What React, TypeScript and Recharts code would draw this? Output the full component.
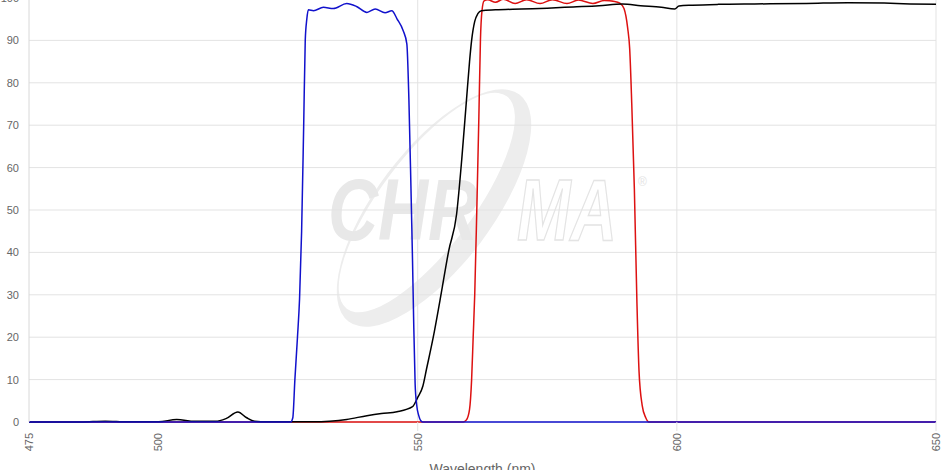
import React from 'react';
import { LineChart, Line, XAxis, YAxis, CartesianGrid } from 'recharts';

// Red bandpass (emitter)
const redWavelength = [475, 540, 555, 558.8, 559.4, 560.0, 560.4, 560.7, 561.0, 561.4, 561.8, 562.1, 562.4, 562.8, 563.5, 565, 566.5, 568.8, 571, 573.6, 576, 578.8, 581, 583.8, 586, 588, 589.0, 589.8, 590.5, 590.9, 591.3, 591.8, 592.3, 592.7, 593.3, 594, 594.6, 610, 650];
const redTransmission = [0, 0, 0, 0, 0.5, 3, 10, 20, 30, 50, 72, 90, 97, 99.3, 99.6, 99.0, 99.7, 98.7, 99.6, 98.7, 99.6, 98.7, 99.5, 98.7, 99.4, 99.2, 98.8, 97.5, 93, 88, 75, 55, 28, 12, 4, 1, 0, 0, 0];

// Blue bandpass (exciter)
const blueWavelength = [475, 520, 525.5, 525.9, 526.3, 526.8, 527.2, 527.6, 528.0, 528.3, 528.6, 528.9, 529.9, 531.8, 533.7, 536.3, 538.2, 540.2, 541.8, 543.7, 545.0, 546.0, 547.2, 547.9, 548.3, 548.7, 549.0, 549.2, 549.5, 549.8, 550.2, 550.6, 551, 560, 650];
const blueTransmission = [0, 0, 0, 1, 10, 20, 29, 45, 70, 90, 95, 97.2, 97.0, 97.8, 97.5, 98.7, 98.0, 96.6, 97.4, 96.5, 97.0, 95.1, 92.3, 89.2, 76, 55, 38, 25, 9, 4, 1.5, 0.3, 0, 0, 0];

// Black longpass (dichroic)
const blackWavelength = [475, 485, 489.7, 494, 500, 503.5, 507, 511, 513, 515.3, 517, 518.5, 521, 530, 533, 536.3, 540.2, 543, 546, 549, 550, 551, 551.7, 553, 554.3, 556, 557.5, 558.5, 559.4, 560.0, 560.4, 561.0, 561.6, 562.3, 565, 570, 575, 580, 585, 589.5, 593, 597, 599.6, 600.4, 603, 608, 615, 625, 633, 640, 645, 650];
const blackTransmission = [0, 0, 0.2, 0.05, 0.05, 0.6, 0.15, 0.15, 0.8, 2.35, 1.0, 0.2, 0.05, 0.05, 0.2, 0.6, 1.5, 2.0, 2.4, 3.6, 5.8, 8.5, 12.5, 20, 28.7, 40.5, 49, 62, 75.8, 85, 90, 94.5, 96.3, 97.0, 97.2, 97.4, 97.6, 97.9, 98.2, 98.6, 98.2, 97.8, 97.4, 98.1, 98.3, 98.5, 98.6, 98.7, 98.9, 98.8, 98.6, 98.5];

const xTicks = [475, 500, 550, 600, 650];
const yTicks = [0, 10, 20, 30, 40, 50, 60, 70, 80, 90, 100];
const gridWavelengths = [550, 600, 650];

const zip = (nm: number[], t: number[]) => nm.map((w, i) => ({ nm: w, t: t[i] }));
const redData = zip(redWavelength, redTransmission);
const blueData = zip(blueWavelength, blueTransmission);
const blackData = zip(blackWavelength, blackTransmission);

const FONT = "'Liberation Sans', Arial, sans-serif";

const XTick = (props: any) => {
  const { x, y, payload } = props;
  const v = payload.value;
  const ty = y + 11;
  return (
    <g>
      {gridWavelengths.includes(v) && (
        <line x1={x} x2={x} y1={y} y2={y + 9} stroke="#e2e2e2" strokeWidth={1} />
      )}
      <text
        x={x}
        y={ty}
        transform={`rotate(-90 ${x} ${ty})`}
        textAnchor="end"
        dy="0.35em"
        fill="#666"
        fontSize={11}
        fontFamily={FONT}
      >
        {v}
      </text>
    </g>
  );
};

const Watermark = () => (
  <svg width={951} height={470} style={{ position: 'absolute', left: 0, top: 0 }}>
    <g transform="translate(434 208) rotate(-53)">
      <path
        d="M -142 0 A 142 58 0 1 0 142 0 A 142 58 0 1 0 -142 0 Z M -133 -9 A 133 46 0 1 0 133 -9 A 133 46 0 1 0 -133 -9 Z"
        fill="#ededed"
        fillRule="evenodd"
      />
    </g>
    <text
      x={328}
      y={240}
      fontSize={88}
      fontStyle="italic"
      fontWeight="bold"
      fontFamily={FONT}
      textLength={150}
      lengthAdjust="spacingAndGlyphs"
      fill="#e8e8e8"
    >
      CHR
    </text>
    <text
      x={517}
      y={240}
      fontSize={88}
      fontStyle="italic"
      fontWeight="bold"
      fontFamily={FONT}
      textLength={100}
      lengthAdjust="spacingAndGlyphs"
      fill="#ffffff"
      stroke="#e4e4e4"
      strokeWidth={1.5}
    >
      MA
    </text>
    <text x={638} y={186} fontSize={12} fill="#e4e4e4" fontFamily={FONT}>®</text>
  </svg>
);

export default function App() {
  return (
    <div style={{ position: 'absolute', left: 0, top: 0, width: 951, height: 470, overflow: 'hidden', background: '#fff' }}>
      <Watermark />
      <div style={{ position: 'absolute', left: 0, top: -12 }}>
        <LineChart width={951} height={500} margin={{ top: 10, right: 15, left: 0, bottom: 0 }}>
          <CartesianGrid stroke="#e3e3e3" verticalValues={gridWavelengths} horizontalValues={yTicks} />
          <XAxis
            dataKey="nm"
            type="number"
            domain={[475, 650]}
            ticks={xTicks}
            allowDuplicatedCategory={false}
            tickLine={false}
            tickSize={0}
            tickMargin={0}
            height={66}
            axisLine={false}
            tick={<XTick />}
            interval={0}
            label={{ value: 'Wavelength (nm)', position: 'insideBottom', offset: 14, fill: '#666', fontSize: 14, fontFamily: FONT }}
          />
          <YAxis
            type="number"
            domain={[0, 100]}
            ticks={yTicks}
            width={29}
            tickLine={false}
            tickSize={6}
            tickMargin={4}
            axisLine={{ stroke: '#d8d8d8' }}
            tick={{ fill: '#666', fontSize: 11, fontFamily: FONT }}
            interval={0}
          />
          <Line data={redData} dataKey="t" type="monotone" stroke="#dd1111" strokeWidth={1.5} dot={false} isAnimationActive={false} />
          <Line data={blackData} dataKey="t" type="monotone" stroke="#000000" strokeWidth={1.5} dot={false} isAnimationActive={false} />
          <Line data={blueData} dataKey="t" type="monotone" stroke="#1111cc" strokeWidth={1.5} dot={false} isAnimationActive={false} />
        </LineChart>
      </div>
    </div>
  );
}
